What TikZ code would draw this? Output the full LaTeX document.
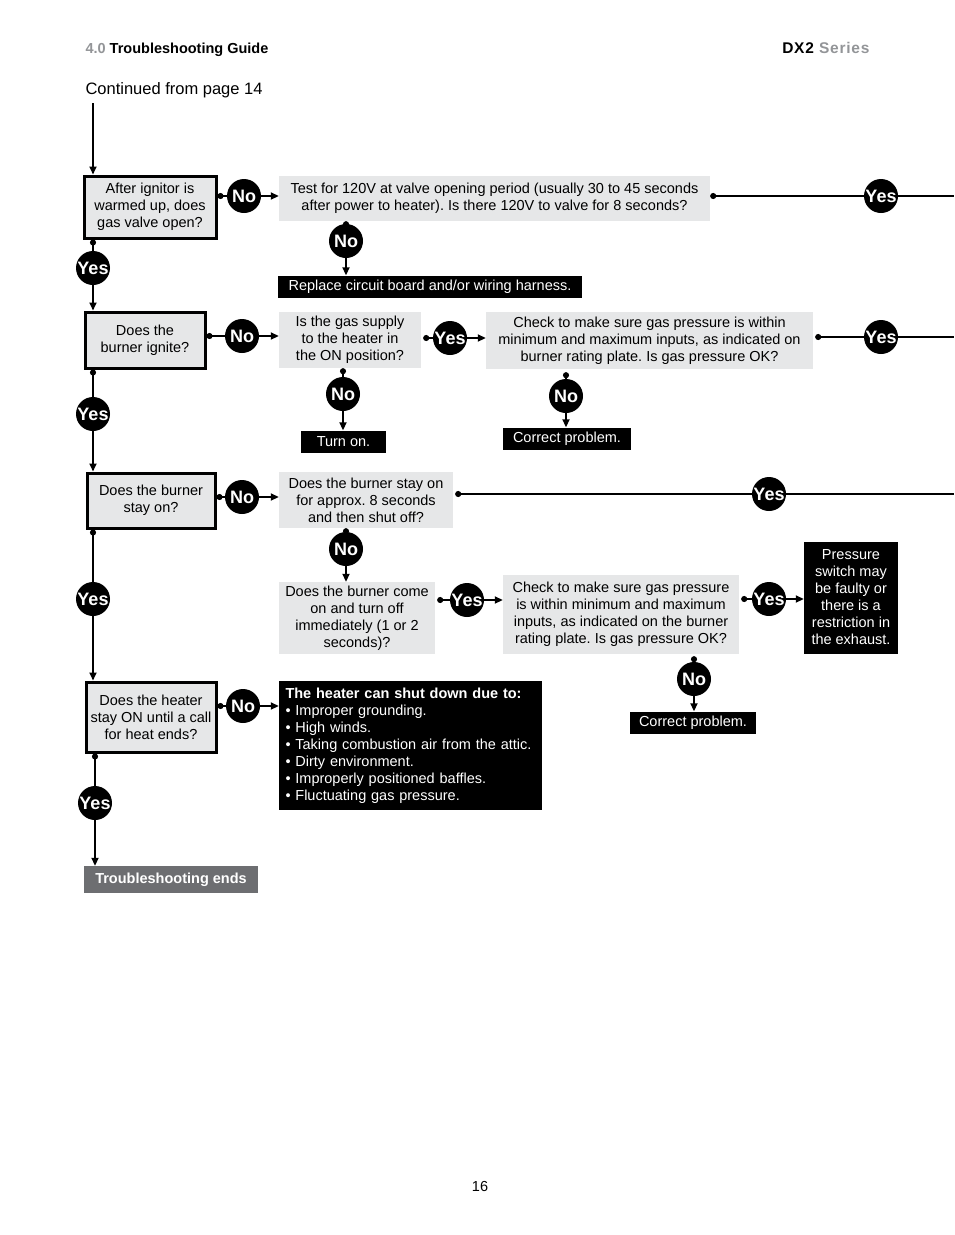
\documentclass[tikz,border=0pt]{standalone}
\usepackage{fontspec}
\setmainfont{Liberation Sans}
\usepackage{tikz}
\usetikzlibrary{arrows.meta, positioning, calc}
\definecolor{boxgray}{HTML}{E6E7E8}
\definecolor{endgray}{HTML}{6D6E71}
\definecolor{headgray}{HTML}{939598}
\frenchspacing

\begin{document}
\begin{tikzpicture}[x=1pt, y=-1pt,
  q/.style={rectangle, fill=boxgray, align=center, inner sep=0pt, font=\fontsize{14.5}{17}\selectfont},
  qmain/.style={q, draw=black, line width=3pt},
  act/.style={rectangle, fill=black, text=white, align=center, inner sep=0pt, font=\fontsize{14.5}{17}\selectfont},
  ans/.style={circle, fill=black, text=white, minimum size=34pt, inner sep=0pt, font=\bfseries\fontsize{18}{18}\selectfont},
  stem/.style={{Circle[length=6pt]}-, line width=1.8pt},
  arr/.style={-{Triangle[length=8pt,width=7pt]}, line width=1.8pt},
  link/.style={line width=1.8pt}
]
  \useasboundingbox (0,0) rectangle (954,1235);

  % page header
  \node[anchor=west, font=\bfseries\fontsize{14.5}{17}\selectfont] (chapter) at (82,50) {\textcolor{headgray}{4.0} Troubleshooting Guide};
  \node[anchor=east, font=\bfseries\fontsize{15.5}{18}\selectfont\addfontfeature{LetterSpace=5}] (series) at (873,48) {DX2 \textcolor{headgray}{Series}};
  \node[anchor=west, font=\fontsize{16.5}{19}\selectfont] (cont) at (82,90) {Continued from page 14};
  \node[font=\fontsize{14.5}{17}\selectfont] (pagenum) at (480,1186) {16};
  \coordinate (start) at (93,103);

  % questions and actions
  \node[qmain, minimum width=132pt, minimum height=62pt] (ignitor) at (150,207) {After ignitor is\\warmed up, does\\gas valve open?};
  \node[q, minimum width=431pt, minimum height=45pt] (volttest) at (494.5,198.5) {Test for 120V at valve opening period (usually 30 to 45 seconds\\after power to heater). Is there 120V to valve for 8 seconds?};
  \node[act, minimum width=304pt, minimum height=22pt] (replace) at (430,286.5) {Replace circuit board and/or wiring harness.};

  \node[qmain, minimum width=120pt, minimum height=56pt] (ignite) at (145,340) {Does the\\burner ignite?};
  \node[q, minimum width=142pt, minimum height=56pt] (supply) at (350,340) {Is the gas supply\\to the heater in\\the ON position?};
  \node[q, minimum width=327pt, minimum height=57pt] (pressA) at (649.5,340.5) {Check to make sure gas pressure is within\\minimum and maximum inputs, as indicated on\\burner rating plate. Is gas pressure OK?};
  \node[act, minimum width=85pt, minimum height=22pt] (turnon) at (343.5,441.5) {Turn on.};
  \node[act, minimum width=128pt, minimum height=22pt] (fixA) at (567,438.5) {Correct problem.};

  \node[qmain, minimum width=128pt, minimum height=55pt] (stayon) at (151,500.5) {Does the burner\\stay on?};
  \node[q, minimum width=174pt, minimum height=56pt] (shutoff) at (366,500) {Does the burner stay on\\for approx. 8 seconds\\and then shut off?};
  \node[q, minimum width=156pt, minimum height=72pt] (comeon) at (357,618) {Does the burner come\\on and turn off\\immediately (1 or 2\\seconds)?};
  \node[q, minimum width=236pt, minimum height=79pt] (pressB) at (621,614.5) {Check to make sure gas pressure\\is within minimum and maximum\\inputs, as indicated on the burner\\rating plate. Is gas pressure OK?};
  \node[act, minimum width=94pt, minimum height=112pt] (pswitch) at (851,597.5) {Pressure\\switch may\\be faulty or\\there is a\\restriction in\\the exhaust.};
  \node[act, minimum width=126pt, minimum height=22pt] (fixB) at (693,722.5) {Correct problem.};

  \node[qmain, minimum width=130pt, minimum height=70pt] (callends) at (151,717) {Does the heater\\stay ON until a call\\for heat ends?};
  \node[act, minimum width=263pt, minimum height=129pt, align=left, text width=250pt] (causes) at (410.5,745.5) {\textbf{The heater can shut down due to:}\\\textbullet\ Improper grounding.\\\textbullet\ High winds.\\\textbullet\ Taking combustion air from the attic.\\\textbullet\ Dirty environment.\\\textbullet\ Improperly positioned baffles.\\\textbullet\ Fluctuating gas pressure.};
  \node[act, fill=endgray, minimum width=174pt, minimum height=27pt, font=\bfseries\fontsize{14.5}{17}\selectfont] (done) at (171,879.5) {Troubleshooting ends};

  % answers
  \node[ans] (no1) at (244,196) {No};
  \node[ans] (no2) at (346,241) {No};
  \node[ans] (yes1) at (881,196) {Yes};
  \node[ans] (yes2) at (93,268) {Yes};
  \node[ans] (no3) at (242,336) {No};
  \node[ans] (yes3) at (450,338) {Yes};
  \node[ans] (yes4) at (881,337) {Yes};
  \node[ans] (no4) at (343,394) {No};
  \node[ans] (no5) at (566,396) {No};
  \node[ans] (yes5) at (93,414) {Yes};
  \node[ans] (no6) at (242,497) {No};
  \node[ans] (yes6) at (769,494) {Yes};
  \node[ans] (no7) at (346,549) {No};
  \node[ans] (yes7) at (467,600) {Yes};
  \node[ans] (yes8) at (769,599) {Yes};
  \node[ans] (no8) at (694,679) {No};
  \node[ans] (yes9) at (93,599) {Yes};
  \node[ans] (no9) at (243,706) {No};
  \node[ans] (yes10) at (95,803) {Yes};

  \coordinate (edge1) at (954,196);
  \coordinate (edge2) at (954,337);
  \coordinate (edge3) at (954,494);

  % connectors
  \draw[arr] (start) -- (start |- ignitor.north);
  \draw[stem] (ignitor.east |- no1) -- (no1);
  \draw[arr] (no1) -- (volttest.west |- no1);
  \draw[stem] (volttest.east |- yes1) -- (yes1);
  \draw[link] (yes1) -- (edge1);
  \draw[stem] (volttest.south -| no2) -- (no2);
  \draw[arr] (no2) -- (replace.north -| no2);
  \draw[stem] (ignitor.south -| yes2) -- (yes2);
  \draw[arr] (yes2) -- (ignite.north -| yes2);

  \draw[stem] (ignite.east |- no3) -- (no3);
  \draw[arr] (no3) -- (supply.west |- no3);
  \draw[stem] ($(supply.east |- yes3)+(2,0)$) -- (yes3);
  \draw[arr] (yes3) -- (pressA.west |- yes3);
  \draw[stem] ($(pressA.east |- yes4)+(2,0)$) -- (yes4);
  \draw[link] (yes4) -- (edge2);
  \draw[stem] (supply.south -| no4) -- (no4);
  \draw[arr] (no4) -- (turnon.north -| no4);
  \draw[stem] ($(pressA.south -| no5)+(0,3)$) -- (no5);
  \draw[arr] (no5) -- (fixA.north -| no5);
  \draw[stem] (ignite.south -| yes5) -- (yes5);
  \draw[arr] (yes5) -- (stayon.north -| yes5);

  \draw[stem] (stayon.east |- no6) -- (no6);
  \draw[arr] (no6) -- (shutoff.west |- no6);
  \draw[stem] ($(shutoff.east |- yes6)+(2,0)$) -- (yes6);
  \draw[link] (yes6) -- (edge3);
  \draw[stem] (shutoff.south -| no7) -- (no7);
  \draw[arr] (no7) -- (comeon.north -| no7);
  \draw[stem] ($(comeon.east |- yes7)+(2,0)$) -- (yes7);
  \draw[arr] (yes7) -- (pressB.west |- yes7);
  \draw[stem] ($(pressB.east |- yes8)+(2,0)$) -- (yes8);
  \draw[arr] (yes8) -- (pswitch.west |- yes8);
  \draw[stem] ($(pressB.south -| no8)+(0,2)$) -- (no8);
  \draw[arr] (no8) -- (fixB.north -| no8);
  \draw[stem] (stayon.south -| yes9) -- (yes9);
  \draw[arr] (yes9) -- (callends.north -| yes9);

  \draw[stem] (callends.east |- no9) -- (no9);
  \draw[arr] (no9) -- (causes.west |- no9);
  \draw[stem] (callends.south -| yes10) -- (yes10);
  \draw[arr] (yes10) -- (done.north -| yes10);
\end{tikzpicture}
\end{document}
